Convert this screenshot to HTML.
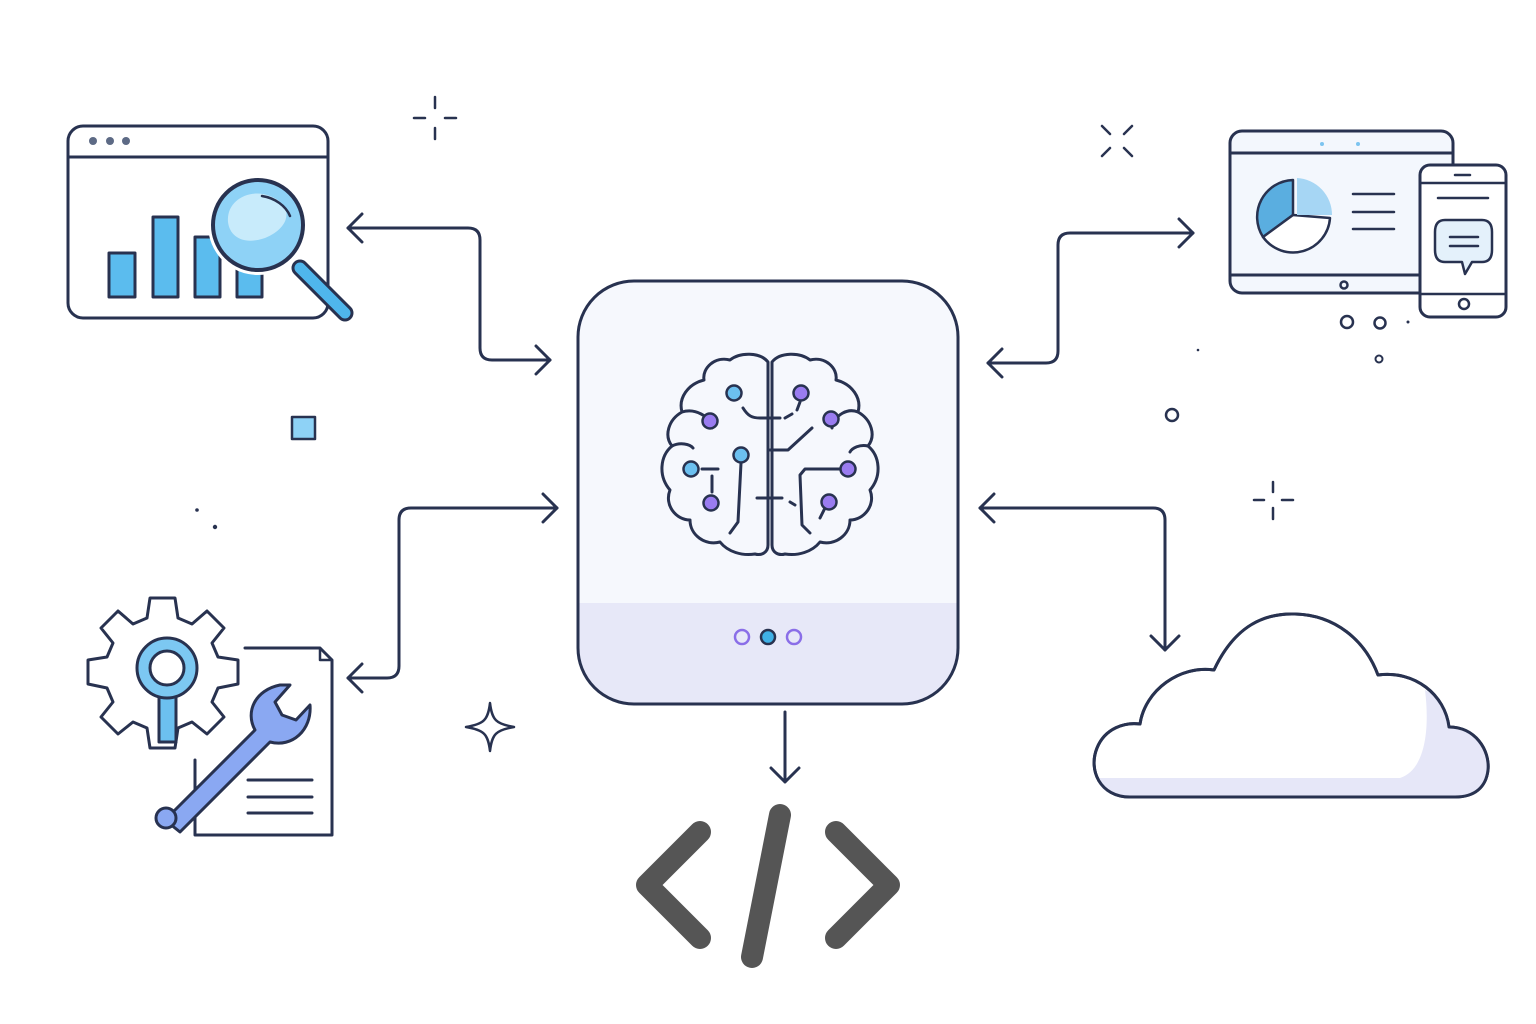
<!DOCTYPE html>
<html><head><meta charset="utf-8"><style>
html,body{margin:0;padding:0;background:#fff;}
svg{display:block}
</style></head><body>
<svg width="1536" height="1024" viewBox="0 0 1536 1024" xmlns="http://www.w3.org/2000/svg">
<defs>
<clipPath id="boxclip"><rect x="578" y="281" width="380" height="423" rx="56"/></clipPath>
</defs>
<g fill="none" stroke="#283250" stroke-width="3" stroke-linecap="round" stroke-linejoin="round">

<!-- central box -->
<g clip-path="url(#boxclip)">
<rect x="578" y="281" width="380" height="423" fill="#f6f8fd" stroke="none"/>
<rect x="578" y="603" width="380" height="110" fill="#e7e8f8" stroke="none"/>
</g>
<rect x="578" y="281" width="380" height="423" rx="56"/>
<circle cx="742" cy="637" r="7" stroke="#8a6ee8" stroke-width="2.5"/>
<circle cx="768" cy="637" r="7" fill="#3fb0e6" stroke="#283250" stroke-width="2.5"/>
<circle cx="794" cy="637" r="7" stroke="#8a6ee8" stroke-width="2.5"/>

<!-- brain -->
<g stroke-width="3">
<path d="M768,362 C760,352 740,352 730,360 C715,356 702,368 704,380 C688,384 678,398 682,412 C668,420 664,436 672,446 C660,456 658,476 670,490 C664,505 676,520 690,520 C690,535 705,546 720,542 C728,552 742,556 755,554 C762,556 768,552 768,545 Z"/>
<path d="M772,362 C780,352 800,352 810,360 C825,356 838,368 836,380 C852,384 862,398 858,412 C872,420 876,436 868,446 C880,456 882,476 870,490 C876,505 864,520 850,520 C850,535 835,546 820,542 C812,552 798,556 785,554 C778,556 772,552 772,545 Z"/>
<path d="M682,412 C695,408 710,416 712,428 M672,446 C680,442 690,444 693,448 M858,412 C848,408 835,414 832,428 M868,446 C860,444 852,448 850,452"/>
<path d="M743,408 C748,416 752,418 760,418 L780,418 M785,418 L792,414 M800,402 L797,410"/>
<path d="M770,450 L788,450 L812,428"/>
<path d="M702,469 L718,469 M712,476 L712,492 M741,463 L738,522 L730,533"/>
<path d="M757,498 L782,498 M790,502 L795,505 M845,469 L805,469 L800,475 L802,525 L810,533 M825,508 L820,518"/>
</g>
<g stroke-width="2.5">
<circle cx="734" cy="393" r="7.5" fill="#6cc0f0"/>
<circle cx="710" cy="421" r="7.5" fill="#9a7cf0"/>
<circle cx="741" cy="455" r="7.5" fill="#6cc0f0"/>
<circle cx="691" cy="469" r="7.5" fill="#6cc0f0"/>
<circle cx="711" cy="503" r="7.5" fill="#9a7cf0"/>
<circle cx="801" cy="393" r="7.5" fill="#9a7cf0"/>
<circle cx="831" cy="419" r="7.5" fill="#9a7cf0"/>
<circle cx="848" cy="469" r="7.5" fill="#9a7cf0"/>
<circle cx="829" cy="502" r="7.5" fill="#9a7cf0"/>
</g>

<!-- connectors -->
<path d="M348,228 L468,228 Q480,228 480,240 L480,348 Q480,360 492,360 L550,360"/>
<path d="M362,214 L348,228 L362,242 M536,346 L550,360 L536,374"/>
<path d="M557,508 L411,508 Q399,508 399,520 L399,666 Q399,678 387,678 L348,678"/>
<path d="M543,494 L557,508 L543,522 M362,664 L348,678 L362,692"/>
<path d="M1193,233 L1070,233 Q1058,233 1058,245 L1058,351 Q1058,363 1046,363 L988,363"/>
<path d="M1179,219 L1193,233 L1179,247 M1002,349 L988,363 L1002,377"/>
<path d="M980,508 L1153,508 Q1165,508 1165,520 L1165,650"/>
<path d="M994,494 L980,508 L994,522 M1151,636 L1165,650 L1179,636"/>
<path d="M785,712 L785,782 M771,768 L785,782 L799,768"/>

<!-- code symbol -->
<g stroke="#555555" stroke-width="22">
<path d="M700,832 L647,885 L700,938"/>
<path d="M780,815 L752,957"/>
<path d="M836,832 L889,885 L836,938"/>
</g>

<!-- top-left browser -->
<rect x="68" y="126" width="260" height="192" rx="15" fill="#fff"/>
<path d="M68,157 L328,157"/>
<g fill="#5d6a85" stroke="none"><circle cx="93" cy="141" r="4"/><circle cx="110" cy="141" r="4"/><circle cx="126" cy="141" r="4"/></g>
<g fill="#5bbcee">
<rect x="109" y="253" width="26" height="44"/>
<rect x="153" y="217" width="25" height="80"/>
<rect x="195" y="237" width="25" height="60"/>
<rect x="237" y="268" width="25" height="29"/>
</g>
<path d="M300,268 L345,313" stroke="#283250" stroke-width="17"/>
<path d="M300,268 L345,313" stroke="#4fb6ec" stroke-width="11"/>
<circle cx="258" cy="225" r="50" fill="#fff" stroke="none"/>
<circle cx="258" cy="225" r="45" fill="#8ed2f6" stroke-width="4"/>
<path d="M228,222 C226,200 250,188 270,196 C295,206 290,228 265,238 C245,245 230,238 228,222 Z" fill="#c8ebfb" stroke="none"/>
<path d="M262,196 C275,198 286,206 290,216" stroke-width="2.5"/>

<!-- top-right devices -->
<rect x="1230" y="131" width="223" height="162" rx="12" fill="#f3f7fd"/>
<path d="M1230,153 L1453,153 M1230,275 L1420,275"/>
<circle cx="1344" cy="285" r="3.5" stroke-width="2.5"/>
<g fill="#7cc4f0" stroke="none"><circle cx="1322" cy="144" r="2"/><circle cx="1358" cy="144" r="2"/></g>
<path d="M1293,180 A37,37 0 0 0 1263,237 L1293,215 Z" fill="#5aaee0" stroke-width="2.5"/>
<path d="M1263,237 A37,37 0 0 0 1330,218 L1293,215 Z" fill="#fff" stroke-width="2.5"/>
<path d="M1297,178 A37,37 0 0 1 1332,215 L1297,215 Z" fill="#a6d6f4" stroke="none"/>
<path d="M1353,194 L1394,194 M1353,212 L1394,212 M1353,229 L1394,229" stroke-width="2.5"/>
<rect x="1420" y="165" width="86" height="152" rx="10" fill="#fff"/>
<path d="M1420,183 L1506,183 M1420,294 L1506,294 M1455,175 L1470,175 M1438,198 L1488,198" stroke-width="2.5"/>
<circle cx="1464" cy="304" r="5" stroke-width="2.5"/>
<path d="M1445,220 L1482,220 Q1492,220 1492,232 L1492,250 Q1492,262 1482,262 L1472,262 L1465,274 L1462,262 L1445,262 Q1435,262 1435,250 L1435,232 Q1435,220 1445,220 Z" fill="#e4f1fb" stroke-width="2.5"/>
<path d="M1450,237 L1478,237 M1450,246 L1478,246" stroke-width="2.5"/>
<circle cx="1347" cy="322" r="6" stroke-width="2.5"/>
<circle cx="1380" cy="323" r="5.5" stroke-width="2.5"/>
<circle cx="1379" cy="359" r="3.5" stroke-width="2"/>
<circle cx="1408" cy="322" r="1.5" fill="#283250" stroke="none"/>

<!-- bottom-left gear & doc -->
<path d="M245,648 L320,648 L332,660 L332,835 L195,835 L195,760" fill="#fff"/>
<path d="M320,648 L320,660 L332,660" stroke-width="2.5"/>
<path d="M248,780 L312,780 M248,797 L312,797 M248,813 L312,813"/>
<path d="M150,598 L175,598 L178,618 L192,624 L207,611 L224,628 L212,643 L218,657 L238,660 L238,684 L218,688 L212,702 L224,717 L207,734 L192,722 L178,728 L175,748 L150,748 L147,728 L133,722 L118,734 L101,717 L113,702 L107,688 L88,684 L88,660 L107,657 L113,643 L101,628 L118,611 L133,624 L147,618 Z" fill="#fff"/>
<path d="M159,690 L159,742 L176,742 L176,690" fill="#6cc0f0"/>
<circle cx="167" cy="668" r="30" fill="#7cc8f2"/>
<circle cx="167" cy="668" r="17" fill="#fff"/>
<path d="M165,820 L255,730 C245,712 255,690 280,685 L290,685 L275,702 L282,715 L296,720 L310,705 C312,730 292,748 270,742 L180,832 Z" fill="#8aa8f2" stroke-width="3"/>
<circle cx="166" cy="818" r="10" fill="#8aa8f2"/>

<!-- cloud -->
<path d="M1130,797 C1100,797 1088,770 1097,748 C1105,728 1125,722 1140,724 C1145,690 1180,665 1214,670 C1235,625 1265,613 1295,614 C1335,615 1365,640 1378,675 C1415,670 1445,695 1449,727 C1475,727 1490,750 1488,770 C1486,787 1475,797 1455,797 Z" fill="#fff"/>
<path d="M1097,778 L1400,778 C1425,770 1430,730 1425,690 C1445,700 1448,715 1449,727 C1475,727 1490,750 1488,770 C1486,787 1475,797 1455,797 L1130,797 C1110,797 1100,790 1097,778 Z" fill="#e6e7f8" stroke="none"/>
<path d="M1130,797 C1100,797 1088,770 1097,748 C1105,728 1125,722 1140,724 C1145,690 1180,665 1214,670 C1235,625 1265,613 1295,614 C1335,615 1365,640 1378,675 C1415,670 1445,695 1449,727 C1475,727 1490,750 1488,770 C1486,787 1475,797 1455,797 Z"/>

<!-- decorations -->
<path d="M435,97 L435,108 M435,128 L435,139 M414,118 L425,118 M445,118 L456,118" stroke-width="2.5"/>
<path d="M1102,126 L1110,134 M1124,148 L1132,156 M1132,126 L1124,134 M1110,148 L1102,156" stroke-width="2.5"/>
<path d="M1273,482 L1273,492 M1273,508 L1273,519 M1254,500 L1264,500 M1282,500 L1293,500" stroke-width="2.5"/>
<rect x="292" y="417" width="23" height="22" fill="#8ed2f6" stroke-width="2.5"/>
<circle cx="1172" cy="415" r="6" stroke-width="2.5"/>
<path d="M490,703 C492,720 496,724 514,727 C496,730 492,734 490,751 C488,734 484,730 466,727 C484,724 488,720 490,703 Z" stroke-width="2.5"/>
<circle cx="197" cy="510" r="1.8" fill="#283250" stroke="none"/>
<circle cx="215" cy="527" r="2.2" fill="#283250" stroke="none"/>
<circle cx="1198" cy="350" r="1.3" fill="#283250" stroke="none"/>
</g>
</svg>
</body></html>
